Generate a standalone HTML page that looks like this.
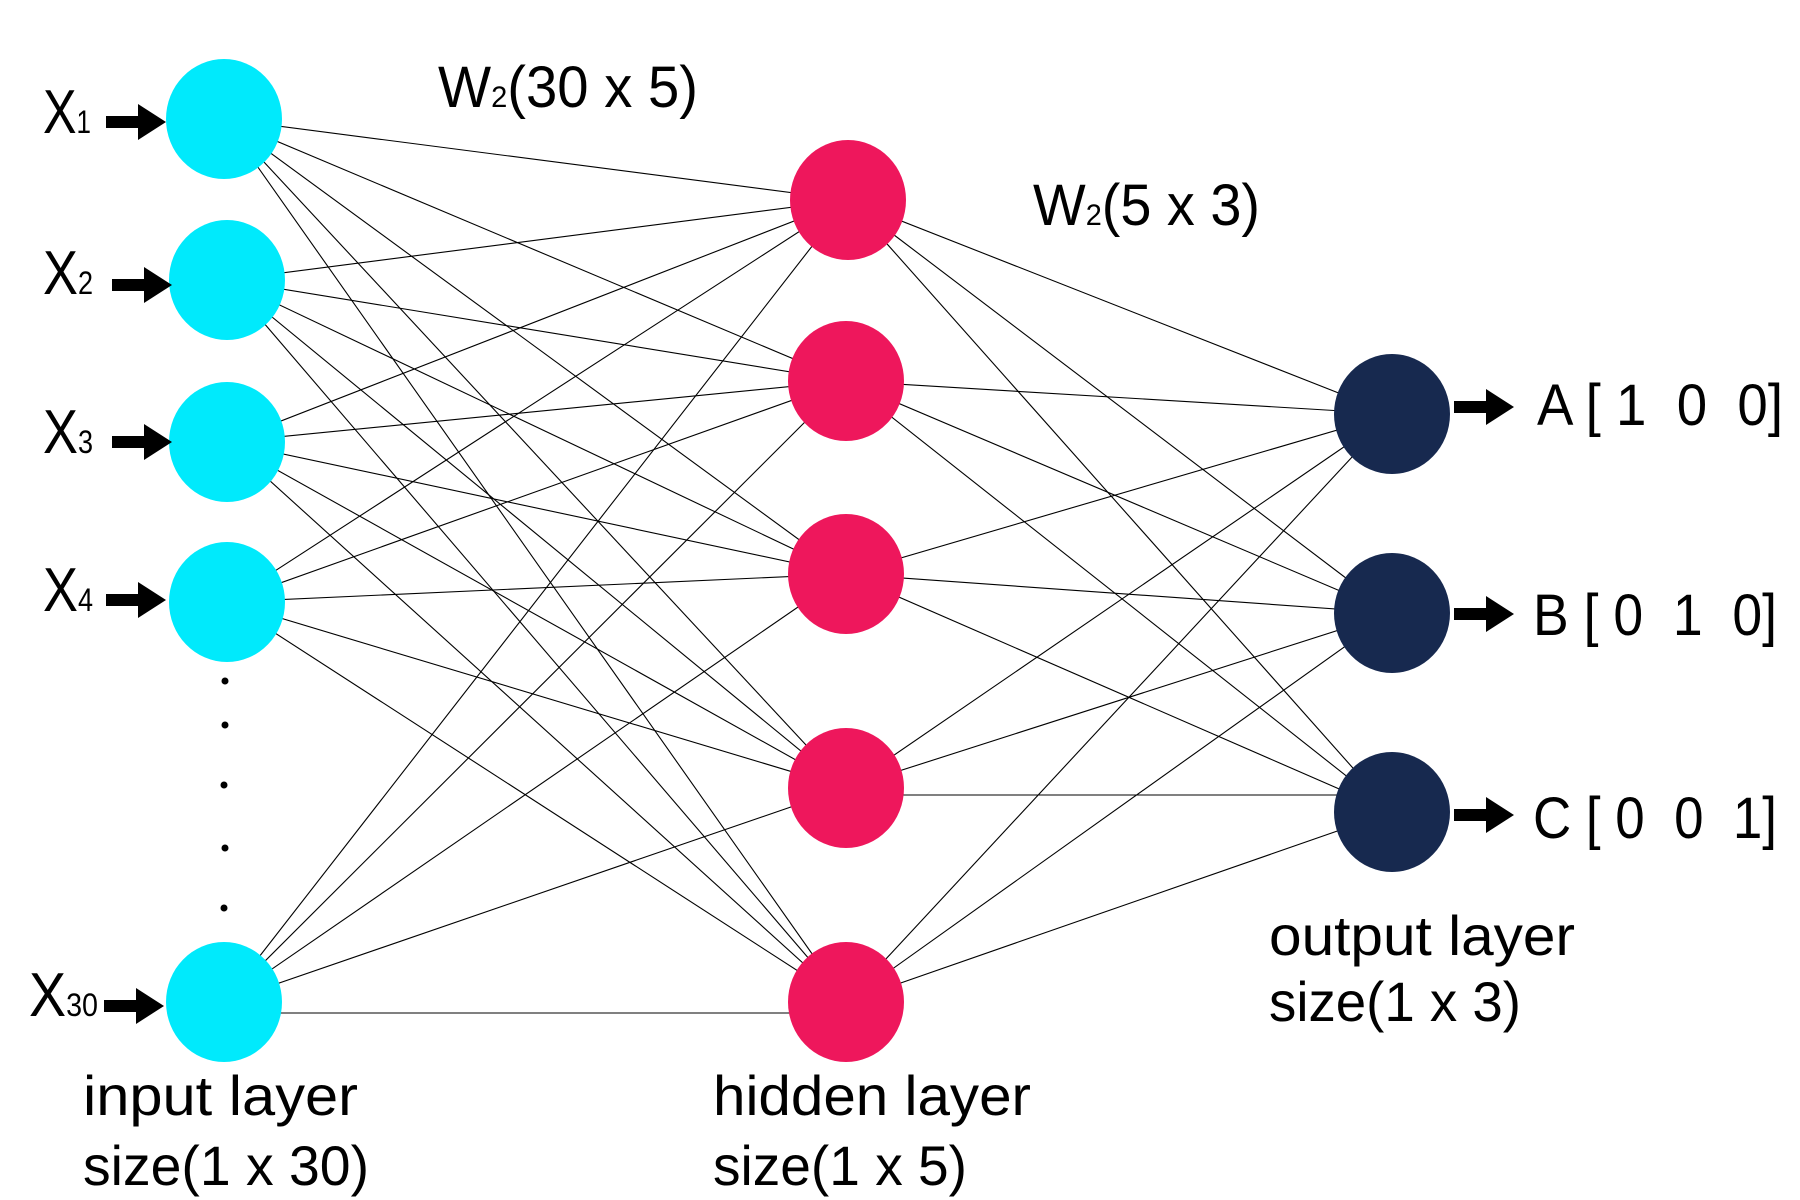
<!DOCTYPE html>
<html><head><meta charset="utf-8"><style>
html,body{margin:0;padding:0;background:#fff;}
svg{display:block;}
text{font-family:"Liberation Sans Narrow","Liberation Sans",sans-serif;fill:#000;}
</style></head><body>
<svg width="1800" height="1200" viewBox="0 0 1800 1200" xmlns="http://www.w3.org/2000/svg">
<g stroke="#000" stroke-width="1.1">
<line x1="224" y1="119" x2="848" y2="200"/><line x1="224" y1="119" x2="846" y2="381"/><line x1="224" y1="119" x2="846" y2="574"/><line x1="224" y1="119" x2="846" y2="788"/><line x1="224" y1="119" x2="846" y2="1002"/>
<line x1="227" y1="280" x2="848" y2="200"/><line x1="227" y1="280" x2="846" y2="381"/><line x1="227" y1="280" x2="846" y2="574"/><line x1="227" y1="280" x2="846" y2="788"/><line x1="227" y1="280" x2="846" y2="1002"/>
<line x1="227" y1="442" x2="848" y2="200"/><line x1="227" y1="442" x2="846" y2="381"/><line x1="227" y1="442" x2="846" y2="574"/><line x1="227" y1="442" x2="846" y2="788"/><line x1="227" y1="442" x2="846" y2="1002"/>
<line x1="227" y1="602" x2="848" y2="200"/><line x1="227" y1="602" x2="846" y2="381"/><line x1="227" y1="602" x2="846" y2="574"/><line x1="227" y1="602" x2="846" y2="788"/><line x1="227" y1="602" x2="846" y2="1002"/>
<line x1="224" y1="1002" x2="848" y2="200"/><line x1="224" y1="1002" x2="846" y2="381"/><line x1="224" y1="1002" x2="846" y2="574"/><line x1="224" y1="1002" x2="846" y2="788"/><line x1="224" y1="1013" x2="846" y2="1013"/>
<line x1="848" y1="200" x2="1392" y2="414"/><line x1="848" y1="200" x2="1392" y2="613"/><line x1="848" y1="200" x2="1392" y2="812"/>
<line x1="846" y1="381" x2="1392" y2="414"/><line x1="846" y1="381" x2="1392" y2="613"/><line x1="846" y1="381" x2="1392" y2="812"/>
<line x1="846" y1="574" x2="1392" y2="414"/><line x1="846" y1="574" x2="1392" y2="613"/><line x1="846" y1="574" x2="1392" y2="812"/>
<line x1="846" y1="788" x2="1392" y2="414"/><line x1="846" y1="788" x2="1392" y2="613"/><line x1="846" y1="795" x2="1392" y2="795"/>
<line x1="846" y1="1002" x2="1392" y2="414"/><line x1="846" y1="1002" x2="1392" y2="613"/><line x1="846" y1="1002" x2="1392" y2="812"/>
</g>
<g fill="#00EAFC">
<ellipse cx="224" cy="119" rx="58" ry="60"/><ellipse cx="227" cy="280" rx="58" ry="60"/><ellipse cx="227" cy="442" rx="58" ry="60"/><ellipse cx="227" cy="602" rx="58" ry="60"/><ellipse cx="224" cy="1002" rx="58" ry="60"/>
</g>
<g fill="#EE175C">
<ellipse cx="848" cy="200" rx="58" ry="60"/><ellipse cx="846" cy="381" rx="58" ry="60"/><ellipse cx="846" cy="574" rx="58" ry="60"/><ellipse cx="846" cy="788" rx="58" ry="60"/><ellipse cx="846" cy="1002" rx="58" ry="60"/>
</g>
<g fill="#17294F">
<ellipse cx="1392" cy="414" rx="58" ry="60"/><ellipse cx="1392" cy="613" rx="58" ry="60"/><ellipse cx="1392" cy="812" rx="58" ry="60"/>
</g>
<g fill="#000"><circle cx="225" cy="681" r="3.5"/><circle cx="225" cy="725" r="3.5"/><circle cx="224" cy="785" r="3.5"/><circle cx="225" cy="848" r="3.5"/><circle cx="224" cy="908" r="3.5"/></g>
<defs>
<path id="arr" d="M0,-6 h32 v-12 l28,18 l-28,18 v-12 h-32z"/>
</defs>
<g fill="#000">
<use href="#arr" x="106" y="122"/>
<use href="#arr" x="112" y="285"/>
<use href="#arr" x="112" y="442"/>
<use href="#arr" x="106" y="600"/>
<use href="#arr" x="104" y="1006"/>
<use href="#arr" x="1454" y="407"/>
<use href="#arr" x="1454" y="614"/>
<use href="#arr" x="1454" y="815"/>
</g>
<text x="43" y="133" font-size="62" textLength="48" lengthAdjust="spacingAndGlyphs">X<tspan font-size="32">1</tspan></text>
<text x="43" y="294" font-size="62" textLength="50" lengthAdjust="spacingAndGlyphs">X<tspan font-size="32">2</tspan></text>
<text x="43" y="453" font-size="62" textLength="50" lengthAdjust="spacingAndGlyphs">X<tspan font-size="32">3</tspan></text>
<text x="43" y="611" font-size="62" textLength="50" lengthAdjust="spacingAndGlyphs">X<tspan font-size="32">4</tspan></text>
<text x="29" y="1016" font-size="62" textLength="69" lengthAdjust="spacingAndGlyphs">X<tspan font-size="32">30</tspan></text>
<text x="438" y="107" font-size="58" textLength="260" lengthAdjust="spacingAndGlyphs">W<tspan font-size="30">2</tspan>(30 x 5)</text>
<text x="1033" y="225" font-size="58" textLength="227" lengthAdjust="spacingAndGlyphs">W<tspan font-size="30">2</tspan>(5 x 3)</text>
<text x="1537" y="425" font-size="58" textLength="246" lengthAdjust="spacingAndGlyphs" xml:space="preserve">A [ 1  0  0]</text>
<text x="1533" y="635" font-size="58" textLength="244" lengthAdjust="spacingAndGlyphs" xml:space="preserve">B [ 0  1  0]</text>
<text x="1533" y="838" font-size="58" textLength="244" lengthAdjust="spacingAndGlyphs" xml:space="preserve">C [ 0  0  1]</text>
<text x="1269" y="955" font-size="56" textLength="306" lengthAdjust="spacingAndGlyphs">output layer</text>
<text x="1269" y="1021" font-size="56" textLength="252" lengthAdjust="spacingAndGlyphs">size(1 x 3)</text>
<text x="83" y="1115" font-size="56" textLength="275" lengthAdjust="spacingAndGlyphs">input layer</text>
<text x="83" y="1185" font-size="56" textLength="286" lengthAdjust="spacingAndGlyphs">size(1 x 30)</text>
<text x="713" y="1115" font-size="56" textLength="318" lengthAdjust="spacingAndGlyphs">hidden layer</text>
<text x="713" y="1185" font-size="56" textLength="254" lengthAdjust="spacingAndGlyphs">size(1 x 5)</text>
</svg>
</body></html>
